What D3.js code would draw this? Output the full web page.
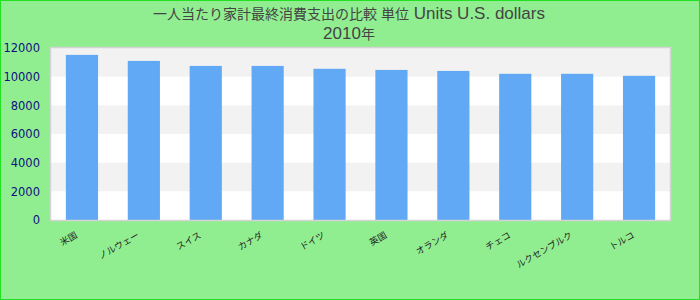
<!DOCTYPE html>
<html>
<head>
<meta charset="utf-8">
<script src="https://cdn.jsdelivr.net/npm/d3@7"></script>
<style>
  body { margin: 0; }
  svg { display: block; }
</style>
</head>
<body>
<div id="chart"></div>
<script>
const titleParts = [["一人当たり家計最終消費支出の比較 単位", true], [" Units U.S. dollars", false]];
const subtitleParts = [["2010", false], ["年", true]];
const categories = ["米国", "ノルウェー", "スイス", "カナダ", "ドイツ", "英国", "オランダ", "チェコ", "ルクセンブルク", "トルコ"];
const values = [11520, 11100, 10750, 10750, 10550, 10470, 10400, 10200, 10200, 10060];
const yTicks = [0, 2000, 4000, 6000, 8000, 10000, 12000];

const width = 700, height = 300;
const margin = { top: 48, right: 30, bottom: 80, left: 51 };

const svg = d3.select("#chart")
    .append("svg")
    .attr("width", width)
    .attr("height", height);

// background + border
svg.append("rect")
    .attr("x", 0.5).attr("y", 0.5)
    .attr("width", width - 1).attr("height", height - 1)
    .attr("fill", "#90ee90")
    .attr("stroke", "#22e022");

const x = d3.scaleBand()
    .domain(categories)
    .range([margin.left, width - margin.right])
    .paddingInner(0.48)
    .paddingOuter(0.24);

const y = d3.scaleLinear()
    .domain([0, 12000])
    .range([height - margin.bottom, margin.top]);

// plot area
svg.append("rect")
    .attr("x", margin.left)
    .attr("y", margin.top)
    .attr("width", width - margin.left - margin.right)
    .attr("height", height - margin.top - margin.bottom)
    .attr("fill", "white");

// alternating bands
const bands = d3.pairs(yTicks).filter((d, i) => i % 2 === 1);
svg.append("g")
    .selectAll("rect")
    .data(bands)
    .join("rect")
    .attr("x", margin.left)
    .attr("width", width - margin.left - margin.right)
    .attr("y", d => y(d[1]))
    .attr("height", d => y(d[0]) - y(d[1]))
    .attr("fill", "#f2f2f2");

// bars
svg.append("g")
    .selectAll("rect")
    .data(values)
    .join("rect")
    .attr("x", (d, i) => x(categories[i]))
    .attr("width", x.bandwidth())
    .attr("y", d => y(d))
    .attr("height", d => y(0) - y(d))
    .attr("fill", "#62a9f5");

// plot border
svg.append("rect")
    .attr("x", margin.left - 0.5)
    .attr("y", margin.top - 0.5)
    .attr("width", width - margin.left - margin.right + 1)
    .attr("height", height - margin.top - margin.bottom + 1)
    .attr("fill", "none")
    .attr("stroke", "#d4d4d4")
    .attr("stroke-width", 1.5);

// y axis
const yAxis = svg.append("g")
    .attr("transform", `translate(${margin.left},0)`)
    .call(d3.axisLeft(y).tickValues(yTicks).tickFormat(d3.format("d")).tickSize(0).tickPadding(11));
yAxis.select(".domain").remove();
yAxis.selectAll("text")
    .attr("fill", "#101080")
    .style("font-family", "DejaVu Sans, sans-serif")
    .style("font-size", "11.5px");

// x labels
svg.append("g")
    .selectAll("text")
    .data(categories)
    .join("text")
    .attr("transform", d => `translate(${x(d) + x.bandwidth() / 2 - 4},${height - margin.bottom + 17}) rotate(-30)`)
    .attr("text-anchor", "end")
    .attr("fill", "#222")
    .style("font-family", "'Noto Sans CJK JP', sans-serif")
    .style("font-size", "9px")
    .text(d => d);

// title
const title = svg.append("g")
    .attr("fill", "#444")
    .attr("text-anchor", "middle")
    .style("font-family", "'Liberation Sans', 'Noto Sans CJK JP', sans-serif")
    .style("font-size", "17px");

[titleParts, subtitleParts].forEach((parts, i) => {
    title.append("text")
        .attr("x", 349)
        .attr("y", 19 + i * 20)
        .selectAll("tspan")
        .data(parts)
        .join("tspan")
        .style("font-size", d => d[1] ? "14px" : null)
        .text(d => d[0]);
});
</script>
</body>
</html>
